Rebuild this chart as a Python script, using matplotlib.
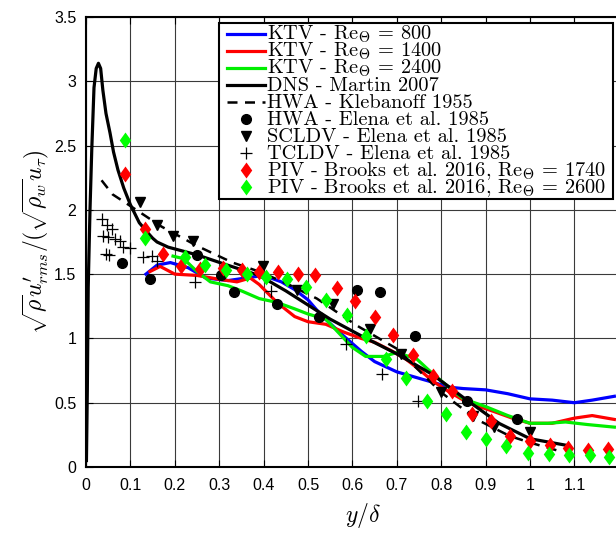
import matplotlib
matplotlib.use("Agg")
import matplotlib.pyplot as plt
from matplotlib.path import Path
from matplotlib.lines import Line2D
from matplotlib.patches import Rectangle
import numpy as np

plt.rcParams['mathtext.fontset'] = 'cm'
plt.rcParams['font.family'] = ['Liberation Sans', 'DejaVu Sans']

# ---------------- data ----------------
ktv800_x = [0.135, 0.16, 0.19, 0.23, 0.27, 0.32, 0.36, 0.40, 0.44, 0.47, 0.50, 0.53, 0.58, 0.62, 0.65,
            0.70, 0.74, 0.78, 0.82, 0.85, 0.90, 0.95, 1.00, 1.05, 1.10, 1.14, 1.19]
ktv800_y = [1.50, 1.57, 1.59, 1.55, 1.47, 1.45, 1.47, 1.49, 1.44, 1.38, 1.30, 1.18, 1.02, 0.90, 0.82,
            0.74, 0.70, 0.66, 0.62, 0.61, 0.60, 0.57, 0.53, 0.52, 0.50, 0.52, 0.55]

ktv1400_x = [0.144, 0.167, 0.20, 0.25, 0.30, 0.34, 0.37, 0.39, 0.43, 0.47, 0.50, 0.54, 0.58, 0.62, 0.65,
             0.69, 0.72, 0.75, 0.78, 0.82, 0.86, 0.92, 0.96, 1.00, 1.05, 1.10, 1.14, 1.19]
ktv1400_y = [1.52, 1.56, 1.50, 1.49, 1.46, 1.44, 1.47, 1.42, 1.28, 1.17, 1.13, 1.11, 1.05, 1.00, 0.97,
             0.90, 0.84, 0.76, 0.67, 0.58, 0.50, 0.43, 0.38, 0.34, 0.34, 0.38, 0.40, 0.37]

ktv2400_x = [0.196, 0.22, 0.25, 0.28, 0.32, 0.35, 0.39, 0.43, 0.47, 0.50, 0.54, 0.57, 0.60, 0.63, 0.67,
             0.70, 0.745, 0.77, 0.80, 0.85, 0.90, 0.95, 1.00, 1.04, 1.08, 1.13, 1.19]
ktv2400_y = [1.64, 1.62, 1.52, 1.44, 1.41, 1.37, 1.31, 1.28, 1.23, 1.19, 1.15, 1.04, 0.93, 0.86, 0.86,
             0.89, 0.84, 0.76, 0.67, 0.53, 0.47, 0.40, 0.34, 0.34, 0.35, 0.33, 0.31]

dns_x = [0.001, 0.003, 0.005, 0.009, 0.013, 0.018, 0.023, 0.028, 0.033, 0.038, 0.045, 0.054, 0.062,
         0.072, 0.085, 0.10, 0.12, 0.137, 0.15, 0.16, 0.185, 0.25, 0.31, 0.39, 0.45, 0.55, 0.62, 0.70,
         0.78, 0.85, 0.93, 1.00, 1.08]
dns_y = [0.05, 0.6, 1.4, 2.0, 2.47, 2.95, 3.10, 3.14, 3.10, 2.93, 2.75, 2.60, 2.45,
         2.31, 2.17, 2.04, 1.90, 1.83, 1.78, 1.75, 1.71, 1.65, 1.58, 1.49, 1.37, 1.15, 1.02, 0.88,
         0.72, 0.54, 0.34, 0.22, 0.17]

kleb_x = [0.035, 0.06, 0.10, 0.17, 0.25, 0.33, 0.39, 0.45, 0.52, 0.61, 0.70, 0.75, 0.80, 0.88, 0.955, 1.00, 1.07]
kleb_y = [2.23, 2.12, 2.03, 1.87, 1.72, 1.59, 1.52, 1.43, 1.31, 1.10, 0.92, 0.75, 0.58, 0.37, 0.24, 0.19, 0.12]

hwa_x = [0.08, 0.144, 0.249, 0.305, 0.333, 0.43, 0.524, 0.611, 0.662, 0.742, 0.858, 0.97]
hwa_y = [1.59, 1.46, 1.65, 1.49, 1.36, 1.27, 1.17, 1.38, 1.36, 1.02, 0.51, 0.37]

scldv_x = [0.122, 0.16, 0.195, 0.241, 0.399, 0.475, 0.556, 0.64, 0.71, 0.80, 0.872, 0.92, 1.00]
scldv_y = [2.06, 1.88, 1.80, 1.76, 1.56, 1.38, 1.27, 1.07, 0.88, 0.58, 0.40, 0.31, 0.27]

tcldv_x = [0.035, 0.047, 0.058, 0.039, 0.05, 0.065, 0.077, 0.084, 0.099, 0.045, 0.052, 0.129, 0.148,
           0.159, 0.245, 0.417, 0.585, 0.666, 0.747]
tcldv_y = [1.93, 1.88, 1.85, 1.80, 1.79, 1.77, 1.76, 1.71, 1.70, 1.66, 1.65, 1.63, 1.64,
           1.60, 1.44, 1.37, 0.96, 0.72, 0.51]

piv1740_x = [0.088, 0.133, 0.173, 0.215, 0.257, 0.309, 0.351, 0.39, 0.432, 0.477, 0.516, 0.565, 0.605,
             0.652, 0.692, 0.737, 0.782, 0.824, 0.87, 0.912, 0.954, 1.00, 1.044, 1.086, 1.13, 1.175]
piv1740_y = [2.28, 1.85, 1.66, 1.56, 1.54, 1.55, 1.53, 1.52, 1.52, 1.50, 1.49, 1.39, 1.29,
             1.17, 1.03, 0.87, 0.71, 0.59, 0.41, 0.36, 0.24, 0.20, 0.17, 0.15, 0.13, 0.14]

piv2600_x = [0.088, 0.133, 0.223, 0.267, 0.316, 0.362, 0.405, 0.452, 0.496, 0.541, 0.587, 0.631, 0.676,
             0.721, 0.767, 0.811, 0.855, 0.902, 0.947, 0.996, 1.042, 1.088, 1.135, 1.178]
piv2600_y = [2.54, 1.78, 1.63, 1.57, 1.53, 1.50, 1.48, 1.46, 1.40, 1.30, 1.18, 1.02, 0.84,
             0.69, 0.51, 0.41, 0.27, 0.22, 0.16, 0.11, 0.10, 0.09, 0.09, 0.08]

labels = [r"KTV - Re$_\Theta$ = 800", r"KTV - Re$_\Theta$ = 1400", r"KTV - Re$_\Theta$ = 2400",
          "DNS - Martin 2007", "HWA - Klebanoff 1955", "HWA - Elena et al. 1985",
          "SCLDV - Elena et al. 1985", "TCLDV - Elena et al. 1985",
          r"PIV - Brooks et al. 2016, Re$_\Theta$ = 1740", r"PIV - Brooks et al. 2016, Re$_\Theta$ = 2600"]

xticks = [0, 0.1, 0.2, 0.3, 0.4, 0.5, 0.6, 0.7, 0.8, 0.9, 1, 1.1]
xtick_labels = ["0", "0.1", "0.2", "0.3", "0.4", "0.5", "0.6", "0.7", "0.8", "0.9", "1", "1.1"]
yticks = [0, 0.5, 1, 1.5, 2, 2.5, 3, 3.5]
ytick_labels = ["0", "0.5", "1", "1.5", "2", "2.5", "3", "3.5"]

# ---------------- figure ----------------
W, H = 616, 534
fig = plt.figure(figsize=(W / 100, H / 100), dpi=100)
x0, x1 = 86, 641
ytop, ybot = 17, 467
ax = fig.add_axes([x0 / W, 1 - ybot / H, (x1 - x0) / W, (ybot - ytop) / H])

diam = Path([(0, 1), (0.72, 0), (0, -1), (-0.72, 0), (0, 1)],
            [Path.MOVETO, Path.LINETO, Path.LINETO, Path.LINETO, Path.CLOSEPOLY])

styles = [
    dict(color='#0000ff', lw=2.3, zorder=3),
    dict(color='#ff0000', lw=2.3, zorder=3),
    dict(color='#00ee00', lw=2.3, zorder=3),
    dict(color='black', lw=2.3, zorder=4),
    dict(color='black', lw=1.8, ls=(0, (4, 3)), zorder=4),
    dict(ls='none', marker='o', ms=7, color='black', zorder=5),
    dict(ls='none', marker='v', ms=7.5, color='black', zorder=5),
    dict(ls='none', marker='+', ms=8, mew=0.9, color='black', zorder=5),
    dict(ls='none', marker=diam, ms=11.5, color='#ff0000', mec='none', zorder=6),
    dict(ls='none', marker=diam, ms=11.5, color='#00ff00', mec='none', zorder=6),
]
series = [(ktv800_x, ktv800_y), (ktv1400_x, ktv1400_y), (ktv2400_x, ktv2400_y), (dns_x, dns_y),
          (kleb_x, kleb_y), (hwa_x, hwa_y), (scldv_x, scldv_y), (tcldv_x, tcldv_y),
          (piv1740_x, piv1740_y), (piv2600_x, piv2600_y)]
for (sx, sy), st, lab in zip(series, styles, labels):
    ax.plot(sx, sy, label=lab, **st)

ax.set_xlim(0, (x1 - x0) / 444)
ax.set_ylim(0, 3.5)
ax.set_xticks(xticks)
ax.set_xticklabels(xtick_labels)
ax.set_yticks(yticks)
ax.set_yticklabels(ytick_labels)
ax.grid(True, color='#3a3a3a', lw=0.8)
ax.set_axisbelow(True)
ax.tick_params(direction='in', top=True, right=False, length=5, width=0.8,
               labelsize=11.5, colors='black')
ax.tick_params(axis='x', pad=8)
ax.tick_params(axis='y', pad=7)
for s in ['left', 'bottom', 'top']:
    ax.spines[s].set_linewidth(1.5)
ax.spines['right'].set_visible(False)

ax.set_xlabel(r"$y/\delta$", fontsize=17, labelpad=6)
ax.set_ylabel(r"$\sqrt{\rho}u^{\prime}_{rms}/(\sqrt{\rho_w}u_\tau)$", fontsize=17, labelpad=2)

# ---------------- legend (drawn with uniform row spacing) ----------------
lx0, lx1, ly0, ly1 = 219, 613, 23, 199
fig.add_artist(Rectangle((lx0 / W, 1 - ly1 / H), (lx1 - lx0) / W, (ly1 - ly0) / H,
                         transform=fig.transFigure, facecolor='white', edgecolor='black',
                         lw=1.5, zorder=10))
for i, (st, lab) in enumerate(zip(styles, labels)):
    yc = 34 + 17 * i
    yf = 1 - yc / H
    st2 = {k: v for k, v in st.items() if k != 'zorder'}
    if st2.get('ls', '-') == 'none':
        h = Line2D([246 / W], [yf], transform=fig.transFigure, zorder=11, **st2)
    else:
        h = Line2D([227 / W, 265 / W], [yf, yf], transform=fig.transFigure, zorder=11, **st2)
    fig.add_artist(h)
    fig.text(267 / W, 1 - (yc + 6.0) / H, lab, family='cmr10', fontsize=14.7,
             va='baseline', ha='left', zorder=12)

fig.savefig("out.png", dpi=100)
